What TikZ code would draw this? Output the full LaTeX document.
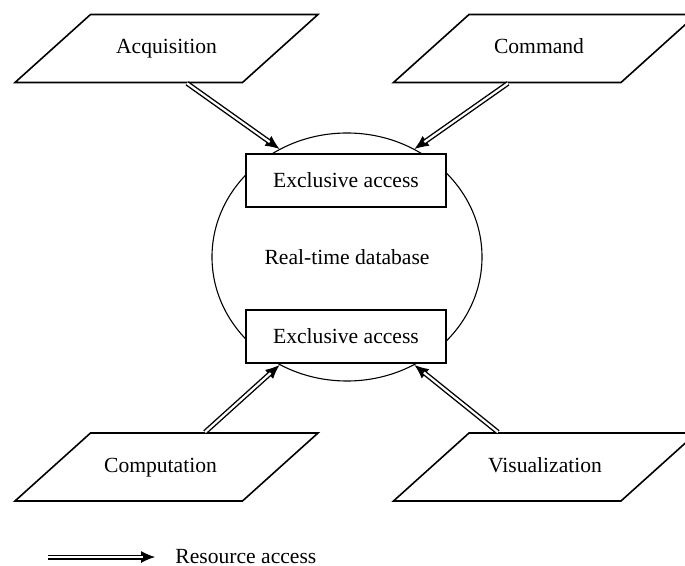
\documentclass[tikz,border=0pt]{standalone}
\usepackage{fontspec}
\setmainfont{Liberation Serif}
\usetikzlibrary{shapes.geometric,arrows.meta}

\begin{document}
\begin{tikzpicture}[x=0.5pt,y=-0.5pt,font=\fontsize{10.8}{13}\selectfont,
  task/.style={draw,line width=0.8pt,trapezium,trapezium left angle=42,
    trapezium right angle=138,trapezium stretches body,
    text height=8pt,text depth=2.5pt,inner ysep=11.75pt,inner xsep=0pt,
    minimum width=151.5pt},
  excl/.style={draw,line width=0.6pt,fill=white,minimum width=100pt,
    minimum height=26.5pt,inner sep=0pt},
  restip/.style={line width=0.5pt,-{Latex[length=7pt,width=6pt]}},
  res/.style={double,double distance=1.1pt,line width=0.7pt,shorten >=6pt}]
\clip (0,0) rectangle (685,566);
\node[draw,ellipse,line width=0.55pt,minimum width=135pt,minimum height=124pt,inner sep=0pt] (db) at (347,257) {Real-time database};
\node[excl] (topacc) at (346,180.5) {Exclusive access};
\node[excl] (botacc) at (346,336.5) {Exclusive access};
\node[task] (acq) at (166.5,48.5) {Acquisition};
\node[task] (cmd) at (545,48.5) {\hspace*{-6pt}Command};
\node[task] (comp) at (166.5,467) {\hspace*{-6pt}Computation};
\node[task] (vis) at (545,467) {Visualization};
\coordinate (acqout) at ([xshift=10.25pt]acq.south);
\coordinate (cmdout) at ([xshift=-18.5pt]cmd.south);
\coordinate (compout) at ([xshift=19.25pt]comp.north);
\coordinate (visout) at ([xshift=-23.5pt]vis.north);
% legend
\coordinate (lgA) at (48,557);
\coordinate (lgB) at (155,557);
\node[anchor=west,inner sep=0pt] (legend) at (175,557) {Resource access};
\foreach \a/\b in {acqout/db.122,cmdout/db.58,compout/db.238,visout/db.302,lgA/lgB}{
  \draw[restip] (\a) -- (\b);
  \draw[res] (\a) -- (\b);
}
\end{tikzpicture}
\end{document}
